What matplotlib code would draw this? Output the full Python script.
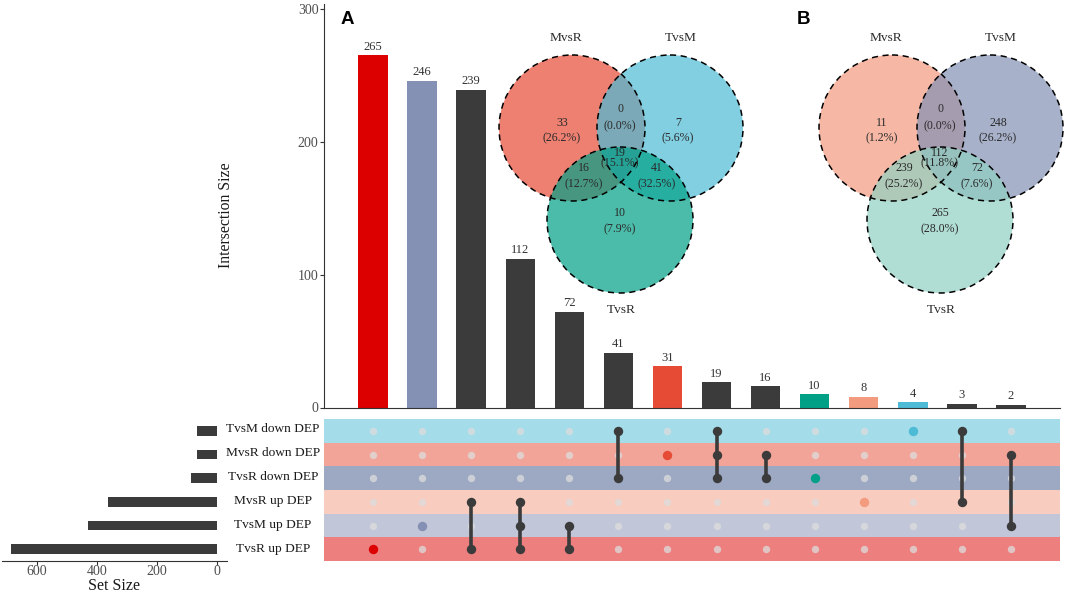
import matplotlib
matplotlib.use("Agg")
import matplotlib.pyplot as plt
from matplotlib.patches import Circle

# ---------------- data ----------------
set_names = ["TvsR up DEP", "TvsM up DEP", "MvsR up DEP",
             "TvsR down DEP", "MvsR down DEP", "TvsM down DEP"]   # bottom -> top
set_sizes = [688, 432, 362, 86, 68, 67]

intersection_sizes = [265, 246, 239, 112, 72, 41, 31, 19, 16, 10, 8, 4, 3, 2]
intersection_members = [
    ["TvsR up DEP"],
    ["TvsM up DEP"],
    ["MvsR up DEP", "TvsR up DEP"],
    ["MvsR up DEP", "TvsM up DEP", "TvsR up DEP"],
    ["TvsM up DEP", "TvsR up DEP"],
    ["TvsM down DEP", "TvsR down DEP"],
    ["MvsR down DEP"],
    ["TvsM down DEP", "MvsR down DEP", "TvsR down DEP"],
    ["MvsR down DEP", "TvsR down DEP"],
    ["TvsR down DEP"],
    ["MvsR up DEP"],
    ["TvsM down DEP"],
    ["TvsM down DEP", "MvsR up DEP"],
    ["MvsR down DEP", "TvsM up DEP"],
]
DARK = "#3B3B3B"
bar_colors = ["#DC0000", "#8491B4", DARK, DARK, DARK, DARK, "#E64B35",
              DARK, DARK, "#00A087", "#F39B7F", "#4DBBD5", DARK, DARK]
row_colors = ["#DC0000", "#8491B4", "#F39B7F", "#3C5488", "#E64B35", "#4DBBD5"]

venn_names = ["MvsR", "TvsM", "TvsR"]
# region order: M only, M&T, T only, all three, M&R, T&R, R only
vennA_counts = [33, 0, 7, 19, 16, 41, 10]
vennA_pct = ["26.2%", "0.0%", "5.6%", "15.1%", "12.7%", "32.5%", "7.9%"]
vennA_colors = ["#E64B35", "#4DBBD5", "#00A087"]
vennB_counts = [11, 0, 248, 112, 239, 72, 265]
vennB_pct = ["1.2%", "0.0%", "26.2%", "11.8%", "25.2%", "7.6%", "28.0%"]
vennB_colors = ["#F39B7F", "#8491B4", "#91D1C2"]

# ---------------- layout ----------------
W, H = 1065, 592
fig = plt.figure(figsize=(W / 100, H / 100), dpi=100)
SERIF = ["Liberation Serif", "DejaVu Serif"]
plt.rcParams["font.family"] = SERIF


def px_axes(x0, y0, x1, y1):
    return fig.add_axes([x0 / W, 1 - y1 / H, (x1 - x0) / W, (y1 - y0) / H])


n = len(intersection_sizes)
xs = list(range(n))

# bar chart
axb = px_axes(324, 4, 1060, 407.5)
axb.bar(xs, intersection_sizes, width=0.6, color=bar_colors, zorder=2)
for x, v in zip(xs, intersection_sizes):
    axb.text(x, v + 2, str(v), ha="center", va="bottom", fontsize=9,
             color="#333333")
axb.set_xlim(-1, n)
axb.set_ylim(0, 300 * 403.5 / 398.5)
axb.set_yticks([0, 100, 200, 300])
axb.tick_params(axis="y", labelsize=10, labelcolor="#4D4D4D", length=3,
                color="#333333", width=0.8, pad=1)
axb.set_xticks([])
for s in ["top", "right"]:
    axb.spines[s].set_visible(False)
for s in ["left", "bottom"]:
    axb.spines[s].set_color("#333333")
    axb.spines[s].set_linewidth(0.8)
fig.text(226 / W, 1 - 215 / H, "Intersection Size", rotation=90,
         ha="center", va="center", fontsize=11.3, color="#1a1a1a")

# matrix
axm = px_axes(324, 419, 1060, 561)
nrows = len(set_names)
for r in range(nrows):
    axm.axhspan(r - 0.5, r + 0.5, color=row_colors[r], alpha=0.5, lw=0, zorder=0)
for c, members in enumerate(intersection_members):
    rows_in = [set_names.index(m) for m in members]
    for r in range(nrows):
        if r not in rows_in:
            axm.scatter(c, r, s=28, color="#DDDDDD", alpha=0.75, lw=0, zorder=1)
    if len(rows_in) > 1:
        axm.plot([c, c], [min(rows_in), max(rows_in)], color=DARK, lw=2.6,
                 zorder=2, solid_capstyle="butt")
    col = bar_colors[c] if len(rows_in) == 1 else DARK
    axm.scatter([c] * len(rows_in), rows_in, s=46, color=col, lw=0, zorder=3)
axm.set_xlim(-1, n)
axm.set_ylim(-0.5, nrows - 0.5)
axm.axis("off")

# set size
axs = px_axes(2, 419, 227, 561)
axs.barh(range(nrows), set_sizes, height=0.42, color=DARK)
axs.set_xlim(717, -33)
axs.set_ylim(-0.5, nrows - 0.5)
axs.set_yticks([])
axs.set_xticks([600, 400, 200, 0])
axs.tick_params(axis="x", labelsize=10, labelcolor="#4D4D4D", length=3,
                color="#333333", width=0.8, pad=0)
for s in ["top", "right", "left"]:
    axs.spines[s].set_visible(False)
axs.spines["bottom"].set_color("#333333")
axs.spines["bottom"].set_linewidth(0.8)
fig.text(114 / W, 1 - 589.5 / H, "Set Size", ha="center", va="baseline",
         fontsize=11.5, color="#1a1a1a")
for r, name in enumerate(set_names):
    fig.text(273 / W, 1 - (549 - r * 24) / H, name, ha="center", va="center",
             fontsize=9.6, color="#1a1a1a")

# venn overlay
axo = fig.add_axes([0, 0, 1, 1], zorder=5)
axo.set_xlim(0, W)
axo.set_ylim(H, 0)
axo.axis("off")
axo.patch.set_alpha(0)

# (x offset, count y offset, percent y offset) per region
REG = [(-10, -5, 10), (48, -19, -2), (106, -5, 10), (48, 25, 35),
       (12, 40, 56), (85, 40, 56), (48, 85, 101)]


def venn(ox, oy, counts, pcts, colors, letter, letter_x):
    centers = [(ox, oy), (ox + 98, oy), (ox + 48, oy + 92)]
    R = 73
    for (cx, cy), col in zip(centers, colors):
        axo.add_patch(Circle((cx, cy), R, facecolor=col, alpha=0.7, lw=0))
    for (cx, cy) in centers:
        axo.add_patch(Circle((cx, cy), R, facecolor="none", edgecolor="black",
                             lw=1.1, ls=(0, (4, 3))))
    for (dx, dy1, dy2), cnt, p in zip(REG, counts, pcts):
        axo.text(ox + dx, oy + dy1, str(cnt), ha="center", va="center",
                 fontsize=8.6, color="#2a2a2a")
        axo.text(ox + dx, oy + dy2, f"({p})", ha="center", va="center",
                 fontsize=8.6, color="#2a2a2a")
    lab_offs = [(-6, -90), (109, -90), (49, 182)]
    for (dx, dy), nm in zip(lab_offs, venn_names):
        axo.text(ox + dx, oy + dy, nm, ha="center", va="center", fontsize=9.6,
                 color="#2a2a2a")
    axo.text(letter_x, 20, letter, ha="center", va="center", fontsize=13.5,
             fontweight="bold", family=["Liberation Sans", "DejaVu Sans"])


venn(572, 128, vennA_counts, vennA_pct, vennA_colors, "A", 347)
venn(892, 128, vennB_counts, vennB_pct, vennB_colors, "B", 803)

fig.savefig("out.png", dpi=100)
